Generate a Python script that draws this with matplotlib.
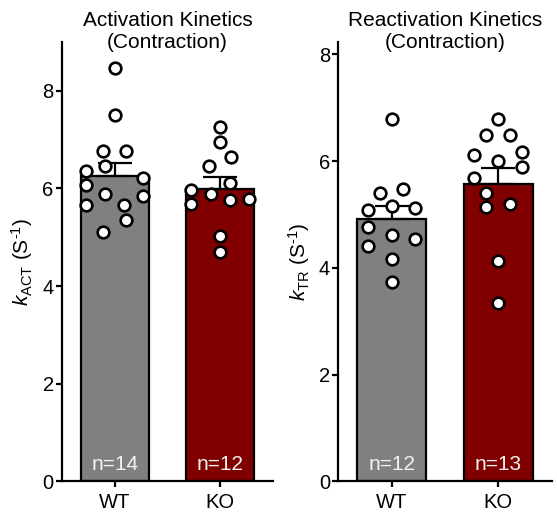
import matplotlib
matplotlib.use("Agg")
import matplotlib.pyplot as plt

plt.rcParams['font.family'] = ['Liberation Sans', 'DejaVu Sans']
plt.rcParams['mathtext.fontset'] = 'custom'
plt.rcParams['mathtext.rm'] = 'Liberation Sans'
plt.rcParams['mathtext.it'] = 'Liberation Sans:italic'

groups = ["WT", "KO"]
bar_colors = ["#808080", "#800000"]

# activation kinetics (kACT)
act_wt = [8.47, 7.51, 6.77, 6.77, 6.46, 6.36, 6.21, 6.07, 5.88, 5.85, 5.67, 5.67, 5.35, 5.11]
act_wt_dx = [0, 0, -0.116, 0.107, -0.093, -0.274, 0.271, -0.274, -0.093, 0.271, -0.274, 0.09, 0.107, -0.116]
act_ko = [7.26, 6.96, 6.64, 6.47, 6.12, 5.97, 5.88, 5.77, 5.78, 5.68, 5.03, 4.69]
act_ko_dx = [0, 0, 0.105, -0.111, 0.09, -0.276, -0.092, 0.09, 0.272, -0.276, 0, 0]
act_mean = [6.26, 5.99]
act_sem = [0.27, 0.25]

# reactivation kinetics (kTR)
tr_wt = [6.79, 5.41, 5.48, 5.08, 5.15, 5.12, 4.77, 4.61, 4.54, 4.41, 4.16, 3.74]
tr_wt_dx = [0, -0.11, 0.105, -0.22, 0, 0.22, -0.22, 0, 0.22, -0.22, 0, 0]
tr_ko = [6.79, 6.48, 6.48, 6.17, 6.12, 6.01, 5.88, 5.69, 5.41, 5.14, 5.20, 4.13, 3.34]
tr_ko_dx = [0, -0.115, 0.11, 0.225, -0.225, 0, 0.225, -0.225, -0.115, -0.115, 0.11, 0, 0]
tr_mean = [4.92, 5.57]
tr_sem = [0.24, 0.30]


def draw_panel(ax, pts, dxs, means, sems, title, ylabel, ymax, yticks):
    ax.bar(range(2), means, width=0.645, color=bar_colors, edgecolor="black",
           linewidth=1.6, zorder=1)
    ax.errorbar(range(2), means, yerr=[[0, 0], sems], fmt="none", ecolor="black",
                elinewidth=1.6, capsize=12, capthick=1.6, zorder=2)
    for i in range(2):
        xs = [i + d for d in dxs[i]]
        ax.plot(xs, pts[i], "o", ms=8.4, mfc="white", mec="black", mew=1.9,
                zorder=3, clip_on=False)
        ax.text(i, 0.027, "n=%d" % len(pts[i]), color="#f2f2f2", fontsize=15,
                ha="center", va="baseline", transform=ax.get_xaxis_transform(),
                zorder=4)
    ax.set_xlim(-0.5, 1.5)
    ax.set_ylim(0, ymax)
    ax.set_yticks(yticks)
    ax.set_xticks(range(2))
    ax.set_xticklabels(groups)
    for s in ["top", "right"]:
        ax.spines[s].set_visible(False)
    for s in ["left", "bottom"]:
        ax.spines[s].set_linewidth(1.6)
    ax.tick_params(axis="both", labelsize=14.5, width=1.6, length=4)
    ax.tick_params(axis="x", pad=4)
    ax.tick_params(axis="y", pad=2)
    ax.set_ylabel(ylabel, fontsize=15, labelpad=5)
    ax.text(0.5, 0.977, title, fontsize=15, ha="center", va="bottom",
            linespacing=1.18, transform=ax.transAxes)


fig = plt.figure(figsize=(5.57, 5.18), dpi=100)
ax1 = fig.add_axes([0.1113, 0.0705, 0.3788, 0.8485])
ax2 = fig.add_axes([0.6074, 0.0705, 0.383, 0.8485])

draw_panel(ax1, [act_wt, act_ko], [act_wt_dx, act_ko_dx], act_mean, act_sem,
           "Activation Kinetics\n(Contraction)",
           r"$\mathit{k}_{\mathrm{ACT}}$ (S$^{\text{-1}}$)", 9.0, [0, 2, 4, 6, 8])
draw_panel(ax2, [tr_wt, tr_ko], [tr_wt_dx, tr_ko_dx], tr_mean, tr_sem,
           "Reactivation Kinetics\n(Contraction)",
           r"$\mathit{k}_{\mathrm{TR}}$ (S$^{\text{-1}}$)", 8.23, [0, 2, 4, 6, 8])

fig.savefig("out.png", dpi=100)
